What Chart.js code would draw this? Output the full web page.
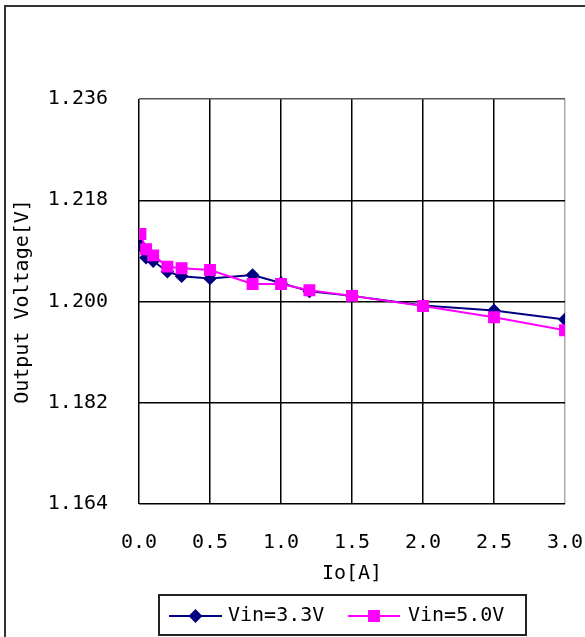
<!DOCTYPE html>
<html>
<head>
<meta charset="utf-8">
<script src="https://cdn.jsdelivr.net/npm/chart.js@4/dist/chart.umd.min.js"></script>
<style>
  html, body { margin: 0; padding: 0; background: #fff; }
  canvas { display: block; }
</style>
</head>
<body>
<canvas id="chart" width="585" height="637"></canvas>
<script>
// Output voltage vs load current, two input voltages
const ioAmps = [0.01, 0.05, 0.1, 0.2, 0.3, 0.5, 0.8, 1.0, 1.2, 1.5, 2.0, 2.5, 3.0];
const vout33 = [1.2100, 1.2078, 1.2072, 1.2053, 1.2045, 1.2041, 1.2047, 1.2033, 1.2018, 1.2010, 1.1993, 1.1984, 1.1968];
const vout50 = [1.2120, 1.2093, 1.2082, 1.2062, 1.2059, 1.2056, 1.2031, 1.2031, 1.2020, 1.2010, 1.1992, 1.1972, 1.1949];
const yTicks = [1.164, 1.182, 1.200, 1.218, 1.236];
const xTicks = [0.0, 0.5, 1.0, 1.5, 2.0, 2.5, 3.0];
const seriesLabels = ['Vin=3.3V', 'Vin=5.0V'];

const FONT = { family: "'DejaVu Sans Mono', monospace", size: 20 };
const NAVY = '#000080';
const MAGENTA = '#FF00FF';

const toPoints = (ys) => ioAmps.map((x, i) => ({ x, y: ys[i] }));

// white page + outer frame of the chart object
const framePlugin = {
    id: 'frame',
    beforeDraw(chart) {
        const ctx = chart.ctx;
        ctx.save();
        ctx.fillStyle = '#fff';
        ctx.fillRect(0, 0, chart.width, chart.height);
        ctx.strokeStyle = '#333';
        ctx.lineWidth = 2;
        ctx.strokeRect(5, 6, 700, 700);
        ctx.restore();
    }
};

// boxed legend below the axis title, line + marker + label
const boxLegend = {
    id: 'boxLegend',
    afterDraw(chart) {
        const ctx = chart.ctx;
        const y = 616;
        const entries = [
            { ds: chart.data.datasets[0], x0: 169, x1: 222, tx: 228 },
            { ds: chart.data.datasets[1], x0: 348, x1: 400, tx: 408 }
        ];
        ctx.save();
        ctx.strokeStyle = '#222';
        ctx.lineWidth = 2;
        ctx.strokeRect(159, 595, 367, 40);
        entries.forEach(e => {
            ctx.strokeStyle = e.ds.borderColor;
            ctx.lineWidth = 2;
            ctx.beginPath();
            ctx.moveTo(e.x0, y);
            ctx.lineTo(e.x1, y);
            ctx.stroke();
            ctx.fillStyle = e.ds.pointBackgroundColor;
            ctx.strokeStyle = e.ds.pointBorderColor;
            Chart.helpers.drawPoint(ctx, {
                pointStyle: e.ds.pointStyle, radius: e.ds.pointRadius, borderWidth: 1, rotation: 0
            }, (e.x0 + e.x1) / 2, y);
            ctx.fillStyle = '#000';
            ctx.font = `${FONT.size}px ${FONT.family}`;
            ctx.textBaseline = 'middle';
            ctx.textAlign = 'left';
            ctx.fillText(e.ds.label, e.tx, y);
        });
        ctx.restore();
    }
};

new Chart(document.getElementById('chart'), {
    type: 'line',
    data: {
        datasets: [
            {
                label: seriesLabels[0],
                data: toPoints(vout33),
                borderColor: NAVY,
                backgroundColor: NAVY,
                pointBackgroundColor: NAVY,
                pointBorderColor: NAVY,
                pointStyle: 'rectRot',
                pointRadius: 5.5,
                borderWidth: 2,
                order: 1
            },
            {
                label: seriesLabels[1],
                data: toPoints(vout50),
                borderColor: MAGENTA,
                backgroundColor: MAGENTA,
                pointBackgroundColor: MAGENTA,
                pointBorderColor: MAGENTA,
                pointStyle: 'rect',
                pointRadius: 7,
                borderWidth: 2,
                order: 0
            }
        ]
    },
    options: {
        responsive: false,
        animation: false,
        devicePixelRatio: 1,
        layout: { padding: { top: 99, right: 20, bottom: 51, left: 5 } },
        plugins: {
            legend: { display: false },
            tooltip: { enabled: false }
        },
        elements: { line: { tension: 0 } },
        scales: {
            x: {
                type: 'linear',
                min: 0,
                max: 3,
                afterBuildTicks: (s) => { s.ticks = xTicks.map(v => ({ value: v })); },
                afterFit: (s) => {
                    s.height = 82;
                    s.paddingLeft = 0;
                    s.paddingRight = 0;
                },
                ticks: {
                    color: '#000',
                    font: FONT,
                    padding: 27,
                    callback: (v) => Number(v).toFixed(1)
                },
                grid: {
                    drawTicks: false,
                    color: (c) => (c.tick && c.tick.value === 3 ? '#aaa' : '#000'),
                    lineWidth: 1.5
                },
                border: { display: false },
                title: {
                    display: true,
                    text: 'Io[A]',
                    color: '#000',
                    font: FONT,
                    padding: { top: 0, bottom: 0 }
                }
            },
            y: {
                min: 1.164,
                max: 1.236,
                afterBuildTicks: (s) => { s.ticks = yTicks.map(v => ({ value: v })); },
                afterFit: (s) => {
                    s.width = 134;
                    s.paddingTop = 0;
                    s.paddingBottom = 0;
                },
                ticks: {
                    color: '#000',
                    font: FONT,
                    padding: 31,
                    callback: (v) => Number(v).toFixed(3)
                },
                grid: {
                    drawTicks: false,
                    color: (c) => (c.tick && c.tick.value === 1.236 ? '#555' : '#000'),
                    lineWidth: 1.5
                },
                border: { display: false },
                title: {
                    display: true,
                    text: 'Output Voltage[V]',
                    color: '#000',
                    font: FONT,
                    padding: { top: 6, bottom: 0 }
                }
            }
        }
    },
    plugins: [framePlugin, boxLegend]
});
</script>
</body>
</html>
